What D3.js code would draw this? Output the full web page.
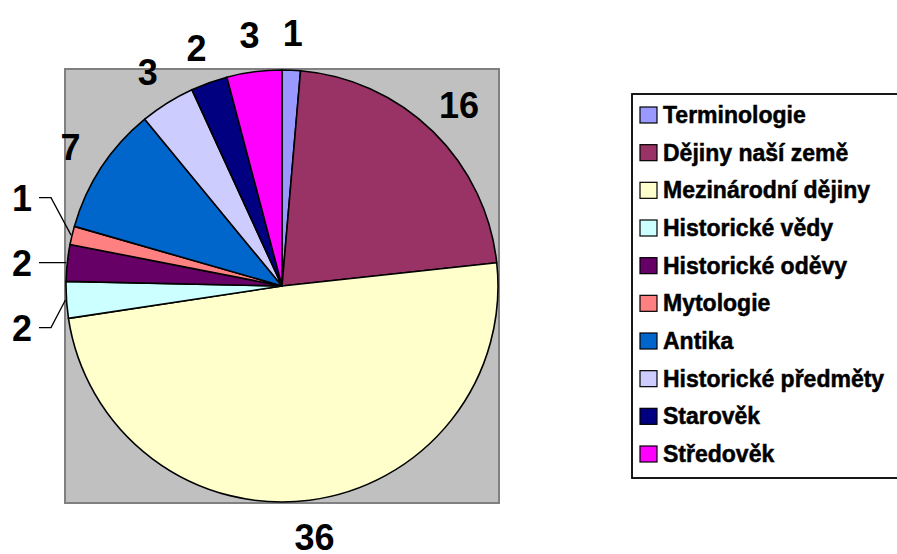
<!DOCTYPE html>
<html>
<head>
<meta charset="utf-8">
<script src="https://cdn.jsdelivr.net/npm/d3@7"></script>
<style>
  body { margin: 0; background: #fff; }
  svg { display: block; font-family: "Liberation Sans", Arial, sans-serif; font-weight: bold; }
</style>
</head>
<body>
<div id="chart"></div>
<script>
// data
const categories = ["Terminologie", "Dějiny naší země", "Mezinárodní dějiny", "Historické vědy",
    "Historické oděvy", "Mytologie", "Antika", "Historické předměty", "Starověk", "Středověk"];
const values = [1, 16, 36, 2, 2, 1, 7, 3, 2, 3];
const colors = ["#9999FF", "#993366", "#FFFFCC", "#CCFFFF", "#660066",
    "#FF8080", "#0066CC", "#CCCCFF", "#000080", "#FF00FF"];

const width = 897, height = 554;
const cx = 282, cy = 286, r = 216;

const svg = d3.select("#chart").append("svg")
    .attr("width", width)
    .attr("height", height);

// gray plot area
svg.append("rect")
    .attr("x", cx - r - 1)
    .attr("y", cy - r - 1)
    .attr("width", 2 * r + 2)
    .attr("height", 2 * r + 2)
    .attr("fill", "#C0C0C0")
    .attr("stroke", "#808080")
    .attr("stroke-width", 2);

const data = categories.map((c, i) => ({name: c, value: values[i], color: colors[i]}));

const pie = d3.pie().sort(null).value(d => d.value);
const arcs = pie(data);

const arc = d3.arc().innerRadius(0).outerRadius(r);
const labelArc = d3.arc().innerRadius(r + 37).outerRadius(r + 37);
const edgeArc = d3.arc().innerRadius(r + 1).outerRadius(r + 1);

const g = svg.append("g")
    .attr("transform", "translate(" + cx + "," + cy + ")");

g.selectAll("path.slice")
    .data(arcs)
    .enter().append("path")
    .attr("class", "slice")
    .attr("d", arc)
    .attr("fill", d => d.data.color)
    .attr("stroke", "#000")
    .attr("stroke-width", 1.6)
    .attr("stroke-linejoin", "round");

// labels: those near the left horizontal get pulled out with leader lines
const fs = 36;
const labels = arcs.map(d => {
    const [x, y] = labelArc.centroid(d);
    const mid = (d.startAngle + d.endAngle) / 2 * 180 / Math.PI;
    return {d: d, x: x, y: y, mid: mid, lead: Math.abs(mid - 270) < 30};
});

// spread the leader group vertically
const leadGroup = labels.filter(l => l.lead).sort((a, b) => a.y - b.y);
const gap = 65;
const meanY = d3.mean(leadGroup, l => l.y);
leadGroup.forEach((l, i) => {
    l.y = meanY + (i - (leadGroup.length - 1) / 2) * gap;
    l.x = -cx + 32;
});

labels.forEach(l => {
    g.append("text")
        .attr("x", l.x)
        .attr("y", l.y)
        .attr("dy", "0.36em")
        .attr("text-anchor", l.lead ? "end" : "middle")
        .attr("font-size", fs)
        .attr("fill", "#000")
        .text(l.d.data.value);

    if (l.lead) {
        const [ex, ey] = edgeArc.centroid(l.d);
        g.append("path")
            .attr("d", d3.line()([[l.x + 7, l.y], [l.x + 19, l.y], [ex, ey]]))
            .attr("fill", "none")
            .attr("stroke", "#000")
            .attr("stroke-width", 1.3);
    }
});

// legend
const legX = 632, legY = 94, legH = 384;
svg.append("rect")
    .attr("x", legX)
    .attr("y", legY)
    .attr("width", 280)
    .attr("height", legH)
    .attr("fill", "#fff")
    .attr("stroke", "#000")
    .attr("stroke-width", 1.8);

const rowY = d3.scalePoint()
    .domain(categories)
    .range([123, 462]);

const leg = svg.selectAll("g.leg")
    .data(data)
    .enter().append("g")
    .attr("class", "leg")
    .attr("transform", d => "translate(" + (legX + 8) + "," + rowY(d.name) + ")");

leg.append("rect")
    .attr("x", 0)
    .attr("y", -16)
    .attr("width", 17)
    .attr("height", 16)
    .attr("fill", d => d.color)
    .attr("stroke", "#000")
    .attr("stroke-width", 1.2);

leg.append("text")
    .attr("x", 23)
    .attr("y", 0)
    .attr("font-size", 23)
    .attr("fill", "#000")
    .attr("stroke", "#000")
    .attr("stroke-width", 0.5)
    .text(d => d.name);
</script>
</body>
</html>
